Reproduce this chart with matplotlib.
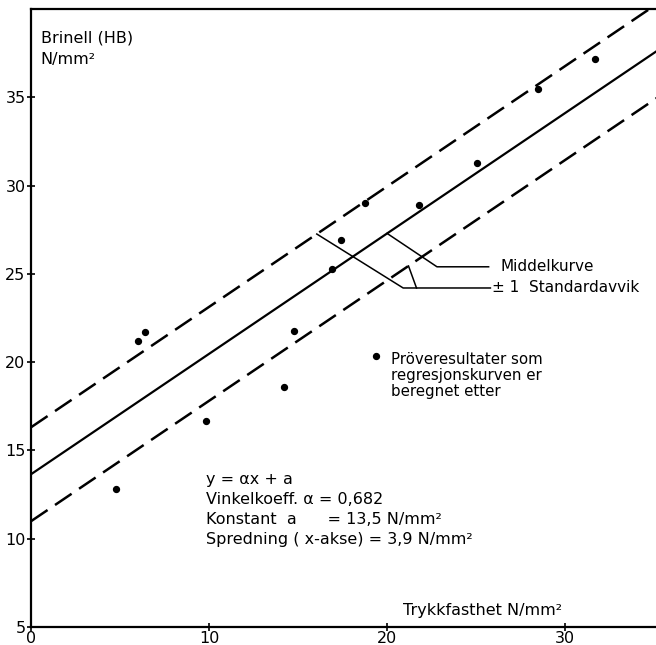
import matplotlib
matplotlib.use("Agg")
import matplotlib.pyplot as plt
import numpy as np

# sample results (Trykkfasthet, Brinell)
x_pts = [4.8, 6.0, 6.4, 9.8, 14.2, 14.75, 16.9, 17.4, 18.75, 21.8, 25.05, 28.45, 31.65]
y_pts = [12.8, 21.2, 21.7, 16.65, 18.6, 21.75, 25.3, 26.9, 29.0, 28.9, 31.25, 35.45, 37.15]

# regression line as drawn: y = alpha*x + a, band +/- alpha*spread
alpha = 0.682
a_drawn = 13.65
spread = 3.9

x_ticks = [0, 10, 20, 30]
y_ticks = [5, 10, 15, 20, 25, 30, 35]

formula_lines = [
    "y = αx + a",
    "Vinkelkoeff. α = 0,682",
    "Konstant  a      = 13,5 N/mm²",
    "Spredning ( x-akse) = 3,9 N/mm²",
]
legend_text = "Pröveresultater som\nregresjonskurven er\nberegnet etter"

plt.rcParams["font.family"] = "DejaVu Sans"

fig = plt.figure(figsize=(6.56, 6.45), dpi=100)
ax = fig.add_axes([31 / 656, 18 / 645, 1 - 31 / 656, (627 - 9) / 645])
ax.set_xlim(0, 35.1)
ax.set_ylim(5, 40)

off = alpha * spread


def mid(x):
    return alpha * np.asarray(x) + a_drawn


xs = np.array([0, 40])
ax.plot(xs, mid(xs), color="black", lw=1.6, solid_capstyle="butt")
ax.plot(xs, mid(xs) + off, color="black", lw=1.8, dashes=(8, 3.6))
ax.plot(xs, mid(xs) - off, color="black", lw=1.8, dashes=(8, 3.6))

ax.scatter(x_pts, y_pts, s=18, color="black", zorder=3)

# leader for Middelkurve
xm = 20.0
ax.plot([xm, 22.8, 25.7], [mid(xm), 25.4, 25.4], color="black", lw=1.1)
ax.text(26.35, 25.4, "Middelkurve", fontsize=11, va="center", ha="left")

# leader for standard deviation
xu = 16.05
ax.plot([xu, 20.9, 25.8], [mid(xu) + off, 24.2, 24.2], color="black", lw=1.1)
xl = 21.2
ax.plot([xl, 21.65], [mid(xl) - off, 24.2], color="black", lw=1.1)
ax.text(25.9, 24.2, "± 1  Standardavvik", fontsize=11, va="center", ha="left")

# legend-like note
ax.scatter([19.4], [20.35], s=18, color="black")
ax.text(20.2, 20.6, legend_text, fontsize=10.8, va="top", ha="left", linespacing=1.1)

ax.text(9.8, 13.8, "\n".join(formula_lines), fontsize=11.5, va="top", ha="left",
        linespacing=1.42)

ax.text(0.55, 38.8, "Brinell (HB)\nN/mm²", fontsize=11.5, va="top", ha="left",
        linespacing=1.55)
ax.text(20.9, 5.95, "Trykkfasthet N/mm²", fontsize=11.5, va="center", ha="left")

ax.set_xticks(x_ticks)
ax.set_yticks(y_ticks)
ax.tick_params(direction="inout", length=6, width=1.2, labelsize=11.5, pad=1)
ax.tick_params(axis="x", pad=0)
ax.spines["right"].set_visible(False)
for s in ("left", "bottom", "top"):
    ax.spines[s].set_linewidth(1.6)

fig.savefig("out.png", dpi=100, facecolor="white")
